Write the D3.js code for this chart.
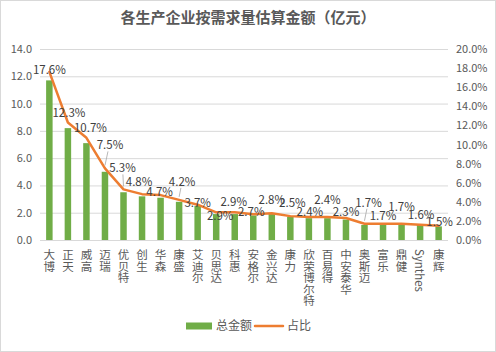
<!DOCTYPE html>
<html>
<head>
<meta charset="utf-8">
<script src="https://cdn.jsdelivr.net/npm/d3@7"></script>
<style>
  body { margin: 0; background: #fff; }
  svg { font-family: "Noto Sans CJK SC", "Noto Sans", sans-serif; }
</style>
</head>
<body>
<svg width="496" height="352"></svg>
<script>
// Data
const companies = ["大博", "正天", "威高", "迈瑞", "优贝特", "创生", "华森", "康盛", "艾迪尔", "贝思达", "科惠",
  "安格尔", "金兴达", "康力", "欣荣博尔特", "百易得", "中安泰华", "奥斯迈", "富乐", "鼎健", "Synthes", "康辉"];
const amounts = [11.7, 8.2, 7.1, 5.0, 3.5, 3.2, 3.1, 2.8, 2.5, 1.9, 1.9,
  1.8, 1.9, 1.7, 1.6, 1.6, 1.5, 1.1, 1.1, 1.1, 1.1, 1.0];
const shares = [17.6, 12.3, 10.7, 7.5, 5.3, 4.8, 4.7, 4.2, 3.7, 2.9, 2.9,
  2.7, 2.8, 2.5, 2.4, 2.4, 2.3, 1.7, 1.7, 1.7, 1.6, 1.5];
const leftTicks = [0, 2, 4, 6, 8, 10, 12, 14];
const rightTicks = [0, 2, 4, 6, 8, 10, 12, 14, 16, 18, 20];

// Label nudges [dx, dy] from each line point (layout only)
const labelNudge = [[0,-2],[1,-10],[4,-10],[5,-23],[-1,-21],[-3,-12],[-1,-3],[3,-18],[0,-2],[4,4],[-1,-10],
  [-2,-2],[0,-13],[2,-13],[1,-5],[0,-17],[0,-6],[4,-21],[0,-8],[0,-17],[1,-10],[1,-4]];

const svg = d3.select("svg");
const m = { left: 40, right: 448, top: 49, bottom: 240 };

// Frame
svg.append("rect").attr("x", 0.5).attr("y", 0.5).attr("width", 495).attr("height", 351)
  .attr("fill", "#fff").attr("stroke", "#d9d9d9");

// Title
svg.append("text").attr("x", 248).attr("y", 23).attr("text-anchor", "middle")
  .attr("font-size", 15).attr("font-weight", "bold").attr("fill", "#595959")
  .text("各生产企业按需求量估算金额（亿元）");

// Scales
const x = d3.scaleBand().domain(companies).range([m.left, m.right]).paddingInner(0.65).paddingOuter(0.33);
const yL = d3.scaleLinear().domain([0, 14]).range([m.bottom, m.top]);
const yR = d3.scaleLinear().domain([0, 20]).range([m.bottom, m.top]);
const cx = i => x(companies[i]) + x.bandwidth() / 2;

// Gridlines
svg.append("g").selectAll("line").data(leftTicks.slice(1)).join("line")
  .attr("x1", m.left).attr("x2", m.right)
  .attr("y1", d => yL(d) + 0.5).attr("y2", d => yL(d) + 0.5)
  .attr("stroke", "#d9d9d9");

// Left axis
const leftAxis = svg.append("g").attr("transform", `translate(${m.left - 8},0)`)
  .call(d3.axisLeft(yL).tickValues(leftTicks).tickFormat(d3.format(".1f")).tickSize(0).tickPadding(0));
leftAxis.select(".domain").remove();
leftAxis.selectAll("text").attr("font-size", 11).attr("fill", "#595959")
  .attr("font-family", "\"Noto Sans CJK SC\", sans-serif");

// Right axis
const rightAxis = svg.append("g").attr("transform", `translate(${m.right + 8},0)`)
  .call(d3.axisRight(yR).tickValues(rightTicks).tickFormat(d => d.toFixed(1) + "%").tickSize(0).tickPadding(0));
rightAxis.select(".domain").remove();
rightAxis.selectAll("text").attr("font-size", 11).attr("fill", "#595959")
  .attr("font-family", "\"Noto Sans CJK SC\", sans-serif");

// Bars
svg.append("g").selectAll("rect").data(amounts).join("rect")
  .attr("x", (d, i) => x(companies[i]))
  .attr("width", x.bandwidth())
  .attr("y", d => yL(d))
  .attr("height", d => yL(0) - yL(d))
  .attr("fill", "#70AD47");

// Baseline
svg.append("line").attr("x1", m.left).attr("x2", m.right)
  .attr("y1", m.bottom + 0.5).attr("y2", m.bottom + 0.5).attr("stroke", "#d9d9d9");

// Share line
const line = d3.line().x((d, i) => cx(i)).y(d => yR(d));
svg.append("path").datum(shares).attr("d", line)
  .attr("fill", "none").attr("stroke", "#ED7D31").attr("stroke-width", 2.5)
  .attr("stroke-linejoin", "round").attr("stroke-linecap", "round");

// Leader lines for labels pushed far from their point
const far = shares.map((d, i) => i).filter(i => labelNudge[i][1] <= -18);
svg.append("g").selectAll("line").data(far).join("line")
  .attr("x1", i => cx(i))
  .attr("y1", i => yR(shares[i]) - 3)
  .attr("x2", i => cx(i) + labelNudge[i][0] * 0.6)
  .attr("y2", i => yR(shares[i]) + labelNudge[i][1] + 6)
  .attr("stroke", "#a6a6a6").attr("stroke-width", 0.8);

// Data labels
svg.append("g").selectAll("text").data(shares).join("text")
  .attr("x", (d, i) => cx(i) + labelNudge[i][0])
  .attr("y", (d, i) => yR(d) + labelNudge[i][1])
  .attr("dy", "0.35em").attr("text-anchor", "middle")
  .attr("font-size", 11.5).attr("fill", "#404040")
  .text(d => d.toFixed(1) + "%");

// Category labels (vertical)
svg.append("g").selectAll("text").data(companies).join("text")
  .attr("x", d => x(d) + x.bandwidth() / 2)
  .attr("y", m.bottom + 9)
  .attr("writing-mode", "tb")
  .attr("font-size", 11.5).attr("fill", "#595959")
  .text(d => d);

// Legend
const lg = svg.append("g").attr("transform", "translate(186,326)");
lg.append("rect").attr("x", 0).attr("y", -3.5).attr("width", 26).attr("height", 7).attr("fill", "#70AD47");
lg.append("text").attr("x", 30).attr("y", 0).attr("dy", "0.35em").attr("font-size", 12).attr("fill", "#595959").text("总金额");
lg.append("line").attr("x1", 69).attr("x2", 97).attr("y1", 0).attr("y2", 0)
  .attr("stroke", "#ED7D31").attr("stroke-width", 2.5).attr("stroke-linecap", "round");
lg.append("text").attr("x", 101).attr("y", 0).attr("dy", "0.35em").attr("font-size", 12).attr("fill", "#595959").text("占比");
</script>
</body>
</html>
